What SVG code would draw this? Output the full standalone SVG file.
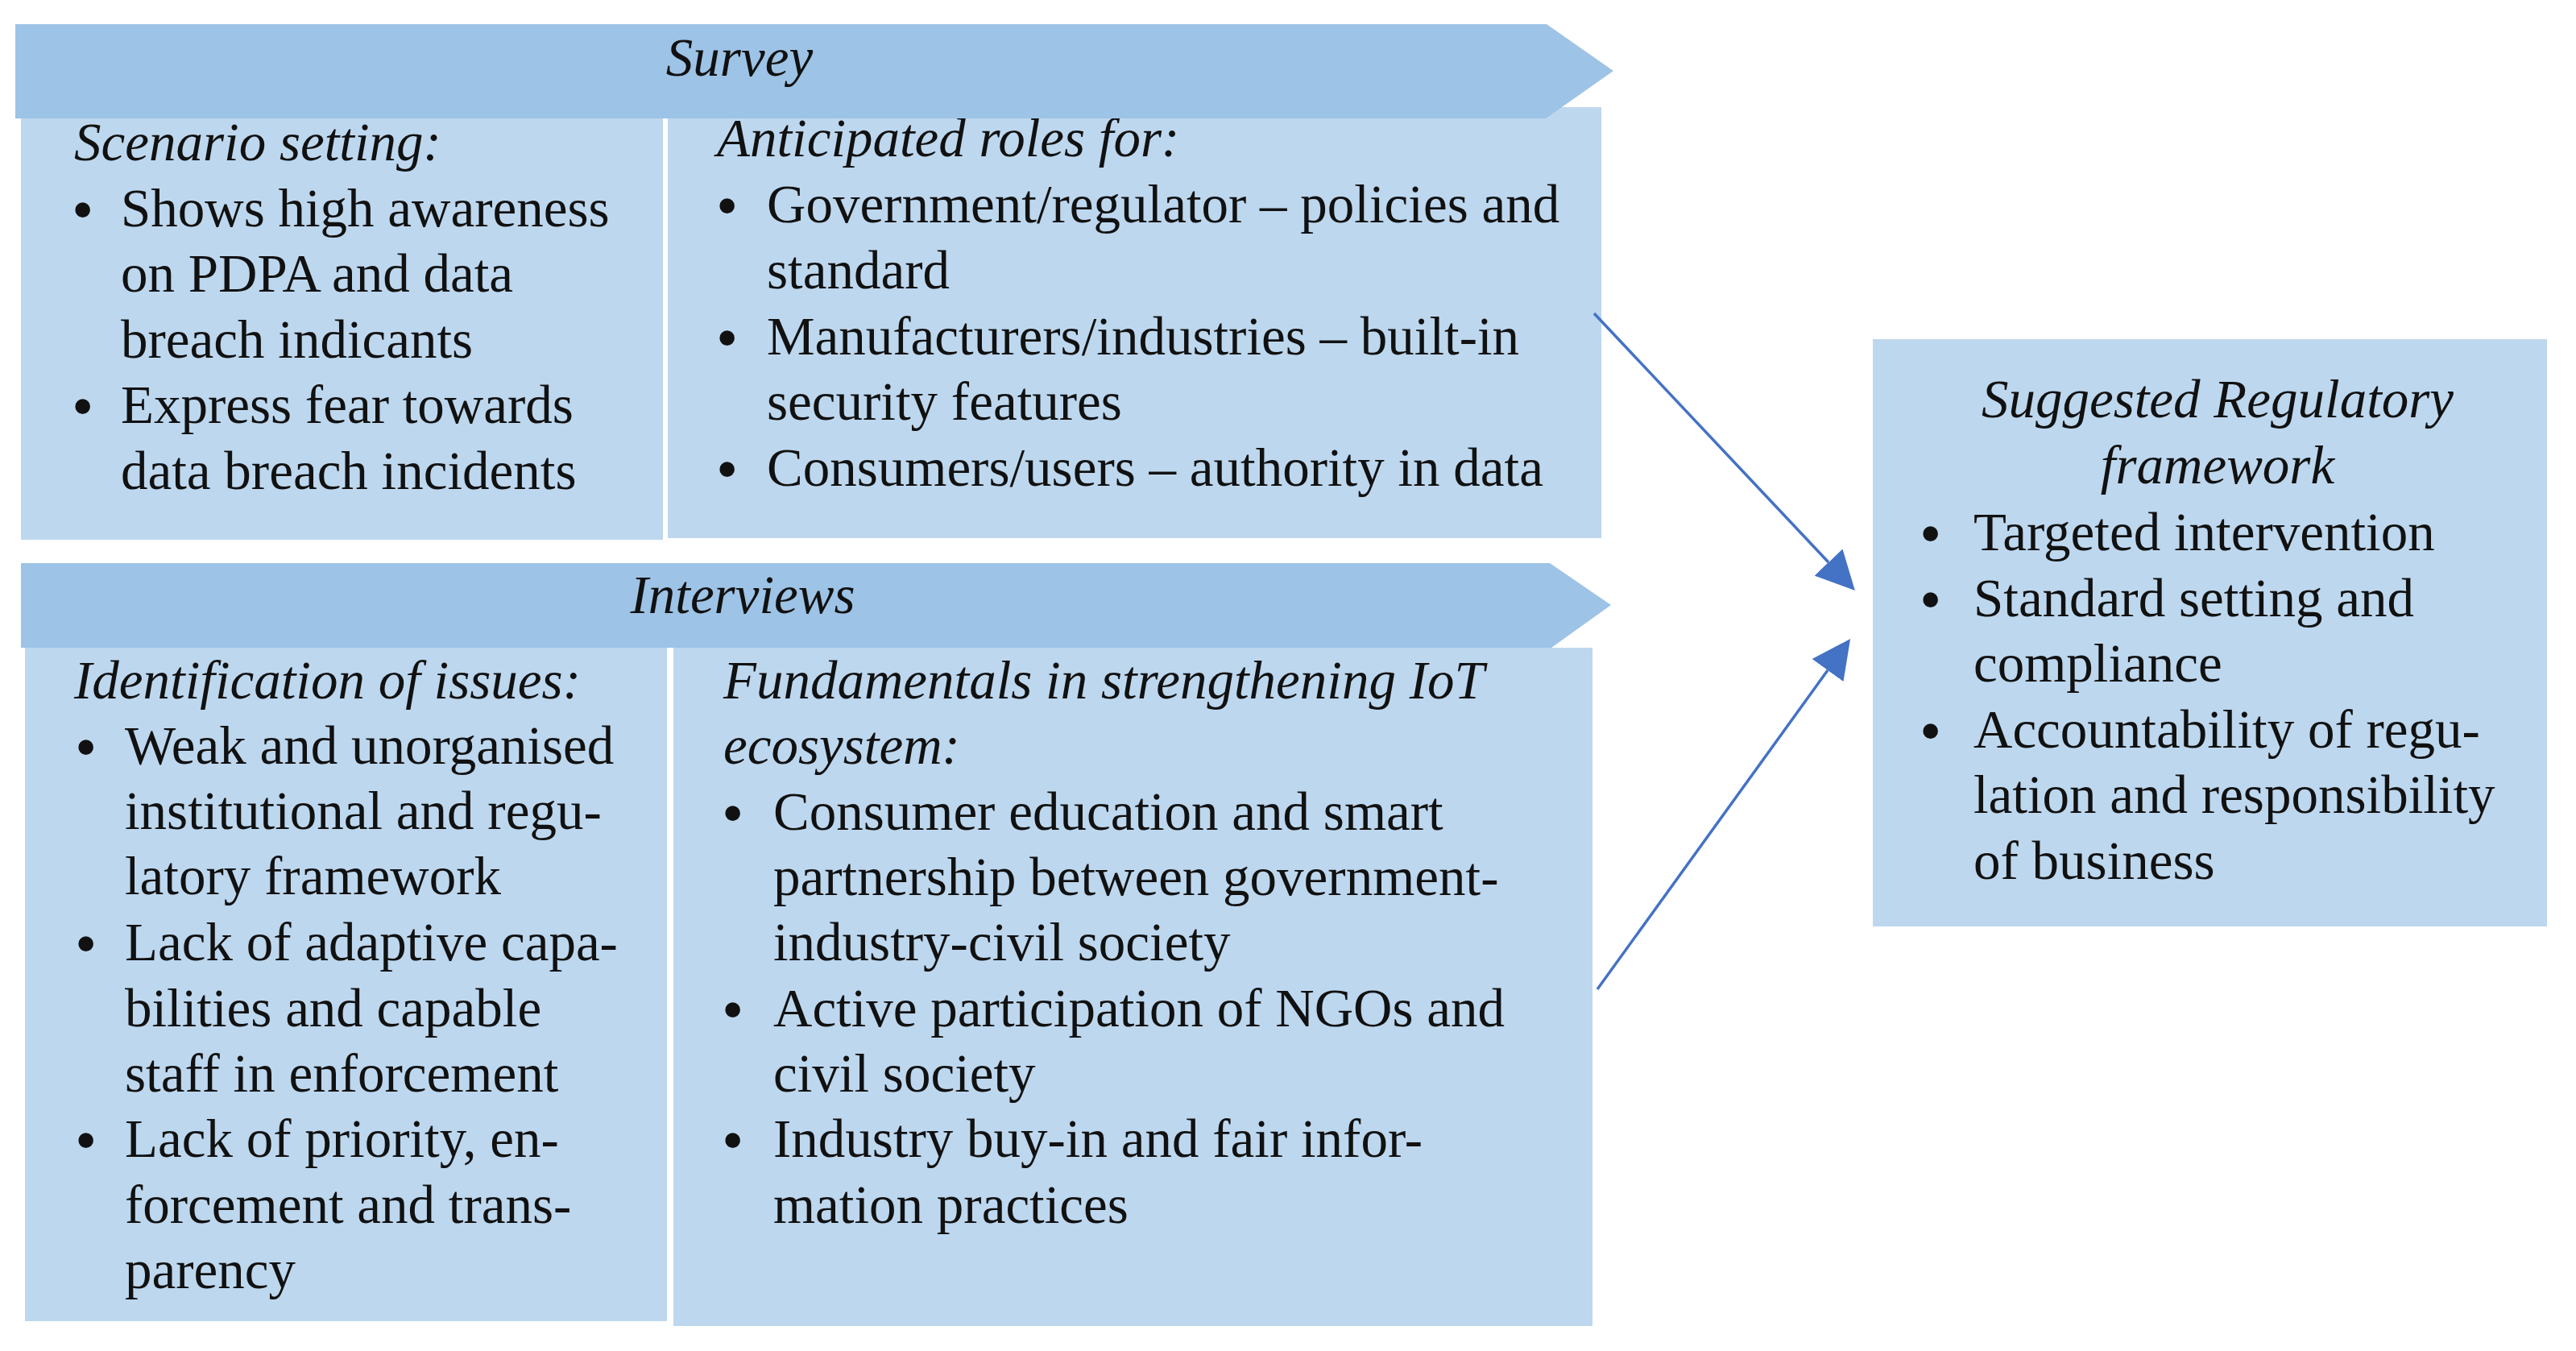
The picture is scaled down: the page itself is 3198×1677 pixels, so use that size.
<svg xmlns="http://www.w3.org/2000/svg" width="3198" height="1677" viewBox="0 0 3198 1677">
  <defs>
    <style>
      .box { fill: #BDD7EE; }
      .banner { fill: #9DC3E6; }
      text { font-family: "Liberation Serif", "Times New Roman", serif; font-size: 67px; fill: #111111; }
      .it { font-style: italic; }
      .mid { text-anchor: middle; }
      .bl { font-size: 78px; }
      .conn { stroke: #4472C4; stroke-width: 3.5; fill: none; }
    </style>
    <marker id="ah" markerUnits="userSpaceOnUse" markerWidth="48" markerHeight="48" refX="0" refY="24" orient="auto" viewBox="0 0 48 48">
      <path d="M0,0 L48,24 L0,48 Z" fill="#4472C4"/>
    </marker>
  </defs>
  <rect width="3198" height="1677" fill="#FFFFFF"/>

  <g id="scenario-setting">
    <rect class="box" x="26" y="146" width="797" height="524"/>
    <text class="it" x="92" y="199">Scenario setting:</text>
    <text class="bl" x="89" y="287">•</text>
    <text x="150" y="281">Shows high awareness</text>
    <text x="150" y="362">on PDPA and data</text>
    <text x="150" y="444">breach indicants</text>
    <text class="bl" x="89" y="531">•</text>
    <text x="150" y="525">Express fear towards</text>
    <text x="150" y="607">data breach incidents</text>
  </g>

  <g id="anticipated-roles">
    <rect class="box" x="829" y="133" width="1159" height="535"/>
    <text class="it" x="890" y="194">Anticipated roles for:</text>
    <text class="bl" x="889" y="282">•</text>
    <text x="952" y="276">Government/regulator – policies and</text>
    <text x="952" y="358">standard</text>
    <text class="bl" x="889" y="446">•</text>
    <text x="952" y="440">Manufacturers/industries – built-in</text>
    <text x="952" y="521">security features</text>
    <text class="bl" x="889" y="609">•</text>
    <text x="952" y="603">Consumers/users – authority in data</text>
  </g>

  <g id="survey">
    <polygon class="banner" points="19,30 1920,30 2003,88 1919,147 19,147"/>
    <text class="it mid" x="918" y="94">Survey</text>
  </g>

  <g id="identification-of-issues">
    <rect class="box" x="31" y="803" width="797" height="837"/>
    <text class="it" x="92" y="867">Identification of issues:</text>
    <text class="bl" x="93" y="954">•</text>
    <text x="155" y="948">Weak and unorganised</text>
    <text x="155" y="1029">institutional and regu-</text>
    <text x="155" y="1110">latory framework</text>
    <text class="bl" x="93" y="1198">•</text>
    <text x="155" y="1192">Lack of adaptive capa-</text>
    <text x="155" y="1274">bilities and capable</text>
    <text x="155" y="1355">staff in enforcement</text>
    <text class="bl" x="93" y="1442">•</text>
    <text x="155" y="1436">Lack of priority, en-</text>
    <text x="155" y="1518">forcement and trans-</text>
    <text x="155" y="1599">parency</text>
  </g>

  <g id="fundamentals">
    <rect class="box" x="836" y="804" width="1141" height="842"/>
    <text class="it" x="898" y="867">Fundamentals in strengthening IoT</text>
    <text class="it" x="898" y="948">ecosystem:</text>
    <text class="bl" x="896" y="1036">•</text>
    <text x="960" y="1030">Consumer education and smart</text>
    <text x="960" y="1111">partnership between government-</text>
    <text x="960" y="1192">industry-civil society</text>
    <text class="bl" x="896" y="1280">•</text>
    <text x="960" y="1274">Active participation of NGOs and</text>
    <text x="960" y="1355">civil society</text>
    <text class="bl" x="896" y="1442">•</text>
    <text x="960" y="1436">Industry buy-in and fair infor-</text>
    <text x="960" y="1518">mation practices</text>
  </g>

  <g id="interviews">
    <polygon class="banner" points="26,699 1924,699 2000,751 1926,804 26,804"/>
    <text class="it mid" x="922" y="761">Interviews</text>
  </g>

  <g id="suggested-framework">
    <rect class="box" x="2325" y="421" width="837" height="729"/>
    <text class="it mid" x="2753" y="518">Suggested Regulatory</text>
    <text class="it mid" x="2753" y="600">framework</text>
    <text class="bl" x="2383" y="689">•</text>
    <text x="2450" y="683">Targeted intervention</text>
    <text class="bl" x="2383" y="771">•</text>
    <text x="2450" y="765">Standard setting and</text>
    <text x="2450" y="846">compliance</text>
    <text class="bl" x="2383" y="934">•</text>
    <text x="2450" y="928">Accountability of regu-</text>
    <text x="2450" y="1009">lation and responsibility</text>
    <text x="2450" y="1091">of business</text>
  </g>

  <g id="connectors">
    <line class="conn" x1="1979" y1="389" x2="2270" y2="698" marker-end="url(#ah)"/>
    <line class="conn" x1="1983" y1="1228" x2="2269" y2="832" marker-end="url(#ah)"/>
  </g>
</svg>
